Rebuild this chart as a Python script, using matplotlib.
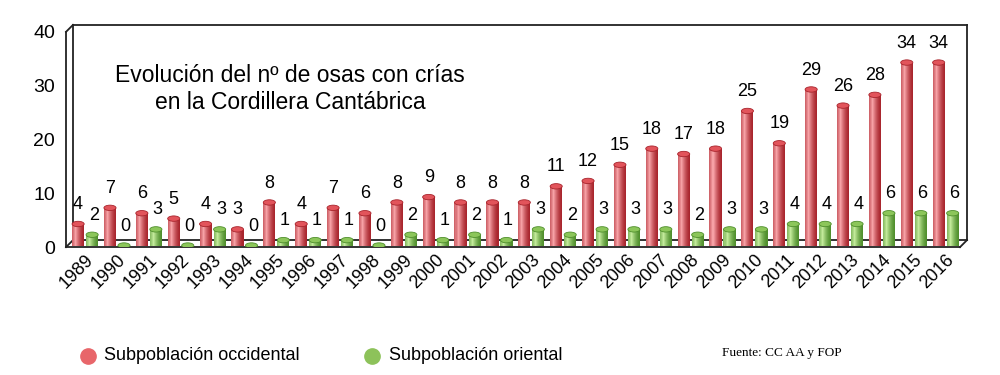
import numpy as np
import matplotlib.pyplot as plt
from matplotlib.patches import Ellipse
from matplotlib.lines import Line2D
from matplotlib.colors import to_rgb

plt.rcParams['font.family'] = ['Liberation Sans', 'DejaVu Sans']

years = list(range(1989, 2017))
occidental = [4, 7, 6, 5, 4, 3, 8, 4, 7, 6, 8, 9, 8, 8, 8, 11, 12, 15, 18, 17, 18, 25, 19, 29, 26, 28, 34, 34]
oriental = [2, 0, 3, 0, 3, 0, 1, 1, 1, 0, 2, 1, 2, 1, 3, 2, 3, 3, 3, 2, 3, 3, 4, 4, 4, 6, 6, 6]
series_names = ['Subpoblación occidental', 'Subpoblación oriental']

fig = plt.figure(figsize=(10, 3.75), dpi=100)
L, R, B, T = 0.066, 0.960, 0.341, 0.915
ax = fig.add_axes([L, B, R - L, T - B])
ax.set_xlim(-0.6, 27.45)
ax.set_ylim(0, 40)
ax.patch.set_visible(False)
for s in ax.spines.values():
    s.set_visible(False)

x = np.arange(len(years))
bw = 0.38
off = 0.22


def mix(c1, c2, t):
    a, b = np.array(to_rgb(c1)), np.array(to_rgb(c2))
    return tuple(a + (b - a) * t)


def cylinders(xpos, vals, dark, light, cap, lab_dx):
    n = 12
    sw = bw / n
    for i in range(n):
        t = (i + 0.5) / n
        # highlight around 30% of the width
        k = max(0.0, 1 - abs(t - 0.3) / 0.7) ** 1.5
        ax.bar(xpos - bw / 2 + sw * (i + 0.5), vals, width=sw * 1.05, bottom=0.3,
               color=mix(dark, light, k), linewidth=0, zorder=2)
    for xi, v in zip(xpos, vals):
        ax.add_patch(Ellipse((xi, v + 0.3), bw, 1.0, facecolor=cap,
                             edgecolor=dark, linewidth=0.6, zorder=3))
        ax.annotate(str(v), (xi + lab_dx, v), xytext=(0, 9), textcoords='offset points',
                    ha='center', va='bottom', fontsize=13, zorder=4)


cylinders(x - off, occidental, '#a8242c', '#f7a3a7', '#e2545b', 0)
cylinders(x + off, oriental, '#4f8f2c', '#c4eb9c', '#8cc65a', 0.05)

ax.set_yticks([0, 10, 20, 30, 40])
ax.tick_params(axis='y', length=0, labelsize=14, pad=8)
ax.set_xticks(x)
ax.set_xticklabels([str(y) for y in years], rotation=45, ha='right', va='top',
                   rotation_mode='anchor', fontsize=13)
ax.tick_params(axis='x', length=0, pad=3)

# 3D box frame
dx, dy = 0.007, 0.0187
segs = [
    [(L, B), (L, T)],
    [(L + dx, B + dy), (L + dx, T + dy)],
    [(L, T), (L + dx, T + dy)],
    [(L, B), (L + dx, B + dy)],
    [(L + dx, T + dy), (R + dx, T + dy)],
    [(R + dx, T + dy), (R + dx, B + dy)],
    [(L + dx, B + dy), (R + dx, B + dy)],
    [(L, B), (R, B)],
    [(R, B), (R + dx, B + dy)],
]
for (x0, y0), (x1, y1) in segs:
    ax.plot([x0, x1], [y0, y1], color='#222222', lw=1.3, transform=fig.transFigure,
            clip_on=False, zorder=1)

fig.text(0.29, 0.762, 'Evolución del nº de osas con crías\nen la Cordillera Cantábrica',
         ha='center', va='center', fontsize=16.5, linespacing=1.2)

# legend
fig.add_artist(Line2D([0.088], [0.051], marker='o', markersize=11, color='#e8666a',
                      transform=fig.transFigure, linestyle='none'))
fig.text(0.104, 0.051, series_names[0], fontsize=13, va='center')
fig.add_artist(Line2D([0.372], [0.051], marker='o', markersize=11, color='#8dc25a',
                      transform=fig.transFigure, linestyle='none'))
fig.text(0.389, 0.051, series_names[1], fontsize=13, va='center')
fig.text(0.722, 0.059, 'Fuente: CC AA y FOP', fontsize=9.5, va='center',
         family=['Liberation Serif', 'DejaVu Serif'])

fig.savefig('out.png', dpi=100)
